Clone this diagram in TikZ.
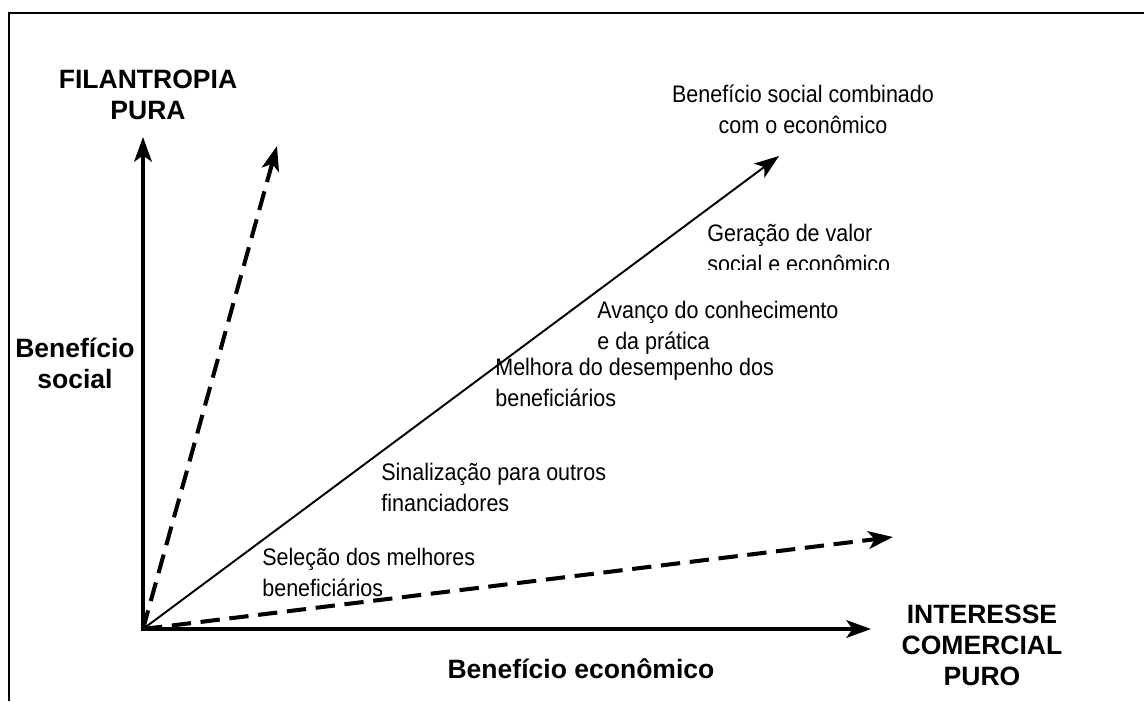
\documentclass[tikz,border=0pt]{standalone}
\usepackage{fontspec}
\setmainfont{Liberation Sans}
\newfontfamily\narrowfont[FakeStretch=0.9]{Liberation Sans}
\usetikzlibrary{arrows.meta}

\begin{document}
\begin{tikzpicture}[->, >={Stealth[length=14pt,width=10pt,inset=3.5pt]}, x=0.02cm, y=-0.02cm,
	axis/.style={line width=2.3pt},
	guide/.style={line width=2.3pt, dash pattern=on 11pt off 5.5pt},
	diag/.style={line width=1.1pt},
	big/.style={font=\bfseries\fontsize{15.1pt}{17.4pt}\selectfont, align=center, inner sep=0pt, anchor=base},
	txt/.style={font=\narrowfont\fontsize{13.6pt}{17.1pt}\selectfont, align=left, inner sep=0pt, anchor=base west}]
	\useasboundingbox (0,0) rectangle (1144,701);
	\draw[-, line width=1.1pt] (9,701) |- (1144,13);
	
	\coordinate (o)    at (143,629);
	\coordinate (ytip) at (143,137);
	\coordinate (xtip) at (871,629);
	\coordinate (s)    at (277,146);
	\coordinate (c)    at (779,156);
	\coordinate (e)    at (893,537);
	
	\draw[axis, <->] (ytip) -- (o) -- (xtip);
	\draw[guide] (o) -- (s);
	\draw[guide] (o) -- (e);
	\draw[diag] (o) -- (c);
	
	% labels: anchor base = baseline of the last line
	\node[big] (fil) at (148,119) {FILANTROPIA\\PURA};
	\node[big] (bs)  at (75,388)  {Benefício\\social};
	\node[big] (icp) at (982,685) {INTERESSE\\COMERCIAL\\PURO};
	\node[big] (be)  at (581,678) {Benefício econômico};
	
	\node[txt, align=center, anchor=base] (t0) at (803,133) {Benefício social combinado\\com o econômico};
	\begin{scope}
		\clip (600,200) rectangle (1000,269);
		\node[txt] (t1) at (707,272) {Geração de valor\\social e econômico};
	\end{scope}
	\node[txt] (t2) at (597,349) {Avanço do conhecimento\\e da prática};
	\node[txt] (t3) at (495,406) {Melhora do desempenho dos\\beneficiários};
	\node[txt] (t4) at (381,511) {Sinalização para outros\\financiadores};
	\node[txt] (t5) at (262,596) {Seleção dos melhores\\beneficiários};
\end{tikzpicture}
\end{document}
